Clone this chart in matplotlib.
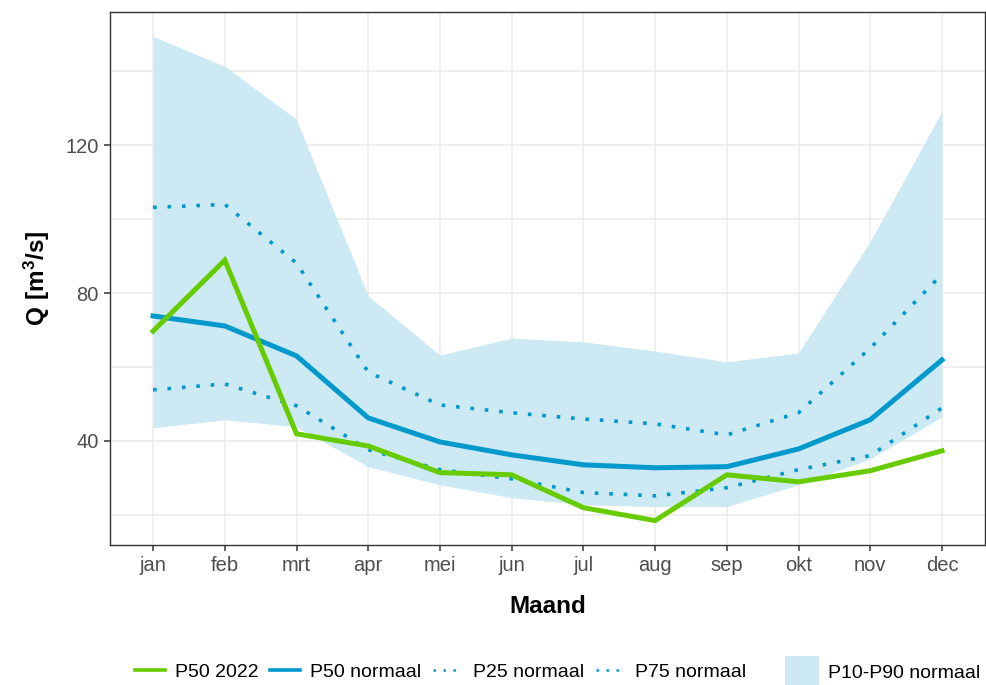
import matplotlib
matplotlib.use("Agg")
import matplotlib.pyplot as plt
from matplotlib.lines import Line2D
from matplotlib.patches import Patch

plt.rcParams['font.family'] = ['Liberation Sans', 'DejaVu Sans']
plt.rcParams['mathtext.fontset'] = 'custom'
plt.rcParams['mathtext.bf'] = 'Liberation Sans:bold'
plt.rcParams['mathtext.rm'] = 'Liberation Sans'

# data
maanden = ['jan', 'feb', 'mrt', 'apr', 'mei', 'jun', 'jul', 'aug', 'sep', 'okt', 'nov', 'dec']
p10 = [43.5, 45.7, 43.8, 33.0, 28.1, 24.6, 22.7, 22.2, 22.2, 28.1, 35.1, 46.5]
p90 = [149.5, 141.4, 127.0, 79.2, 63.2, 67.8, 66.8, 64.3, 61.4, 63.8, 94.0, 129.2]
p25 = [53.8, 55.4, 49.5, 37.6, 32.2, 29.7, 26.0, 25.1, 27.3, 32.2, 36.0, 48.9]
p75 = [103.2, 104.0, 88.1, 58.6, 49.7, 47.6, 45.9, 44.6, 41.6, 47.6, 65.1, 85.1]
p50_normaal = [73.8, 71.1, 63.0, 46.2, 39.7, 36.2, 33.5, 32.7, 33.0, 37.8, 45.7, 61.9]
p50_2022 = [69.7, 88.9, 41.9, 38.6, 31.4, 30.8, 21.9, 18.4, 30.8, 28.9, 31.9, 37.3]

groen = '#66cc00'
blauw = '#0099cc'
band = '#cde9f3'

fig = plt.figure(figsize=(9.86, 6.85), dpi=100)
ax = fig.add_axes([0.1116, 0.2044, 0.8874, 0.7781])

x = list(range(len(maanden)))
ax.fill_between(x, p10, p90, color=band, lw=0, zorder=2)
stip = (0, (1, 3))
ax.plot(x, p25, color=blauw, lw=2.6, ls=stip, zorder=3)
ax.plot(x, p75, color=blauw, lw=2.6, ls=stip, zorder=3)
ax.plot(x, p50_normaal, color=blauw, lw=3.6, zorder=4, solid_joinstyle='miter')
ax.plot(x, p50_2022, color=groen, lw=3.6, zorder=5, solid_joinstyle='miter')

ax.set_xlim(-0.6, 11.6)
ax.set_ylim(11.8, 156.1)
ax.set_xticks(x)
ax.set_xticklabels(maanden)
ax.set_yticks([40, 80, 120])
ax.set_yticks([20, 60, 100, 140], minor=True)
ax.grid(True, which='both', color='#ebebeb', lw=1.1, zorder=0)
ax.set_axisbelow(True)
ax.tick_params(axis='both', which='major', length=4, width=1.1, color='#333333',
               labelcolor='#4d4d4d', labelsize=14.5, pad=4)
ax.tick_params(axis='y', which='minor', length=0)
for s in ax.spines.values():
    s.set_color('#333333')
    s.set_linewidth(1.0)

ax.set_xlabel('Maand', fontsize=17.5, fontweight='bold', labelpad=14)
ax.set_ylabel(r'$\mathbf{Q\ [m^3/s]}$', fontsize=17.5, labelpad=10)

handles = [
    Line2D([], [], color=groen, lw=2.6),
    Line2D([], [], color=blauw, lw=2.6),
    Line2D([], [], color=blauw, lw=1.8, ls=(0, (1, 3))),
    Line2D([], [], color=blauw, lw=1.8, ls=(0, (1, 3))),
]
labels = ['P50 2022', 'P50 normaal', 'P25 normaal', 'P75 normaal']
fig.legend(handles, labels, loc='center left', bbox_to_anchor=(0.137, 0.019), ncol=4,
           frameon=False, fontsize=14, handlelength=1.55, handletextpad=0.5,
           columnspacing=0.6, borderaxespad=0, borderpad=0)
fig.legend([Patch(facecolor=band, edgecolor='none')], ['P10-P90 normaal'], loc='center left',
           bbox_to_anchor=(0.796, 0.019), frameon=False, fontsize=14,
           handlelength=1.75, handleheight=2.1, handletextpad=0.45, borderaxespad=0, borderpad=0)

fig.savefig('out.png', dpi=100)
